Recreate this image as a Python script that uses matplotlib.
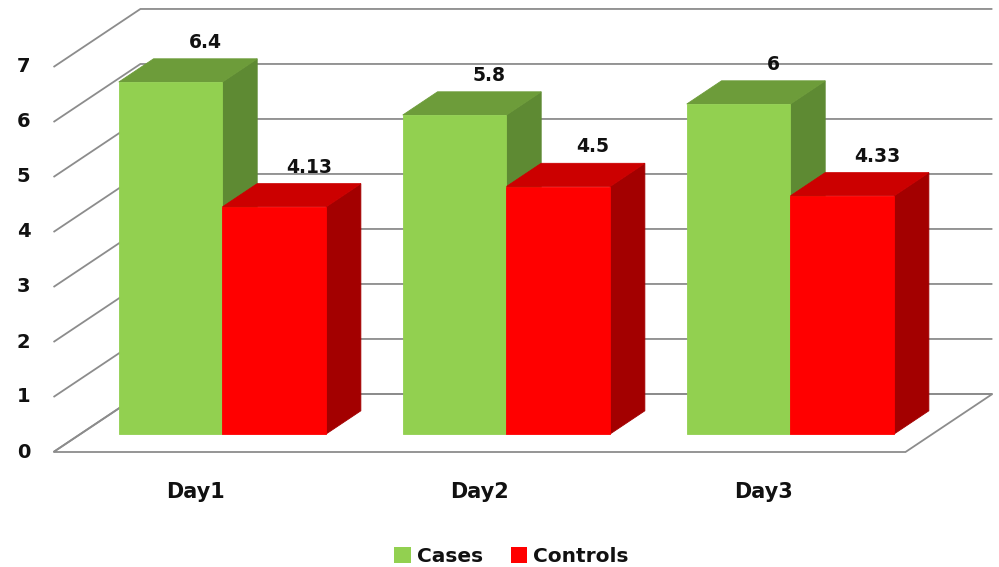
import matplotlib
matplotlib.use("Agg")
import matplotlib.pyplot as plt
from matplotlib.patches import Polygon, Patch

# Data
categories = ["Day1", "Day2", "Day3"]
series_names = ["Cases", "Controls"]
cases = [6.4, 5.8, 6.0]
controls = [4.13, 4.5, 4.33]
value_labels_cases = ["6.4", "5.8", "6"]
value_labels_controls = ["4.13", "4.5", "4.33"]
y_ticks = [0, 1, 2, 3, 4, 5, 6, 7]

# Face colours: front, top, side
green = ("#92d050", "#6d9c3a", "#5e8a33")
red = ("#ff0000", "#cc0000", "#a30000")
grid_col = "#8c8c8c"
text_col = "#111111"

# Oblique projection of (category, value, depth) onto the 2D axes
DX = 0.306   # horizontal shift (category units) for full depth
DY = 1.055   # vertical shift (value units) for full depth


def proj(c, v, z):
    return (c + DX * z, v + DY * z)


fig = plt.figure(figsize=(9.99, 5.67), dpi=100)
ax = fig.add_axes([0, 0, 1, 1])
px_per_cat = 284.0
px_per_val = 55.0
ax.set_xlim(-195.5 / px_per_cat, (999 - 195.5) / px_per_cat)
ax.set_ylim((452 - 567) / px_per_val, 452 / px_per_val)
ax.axis("off")

c_left, c_right = -0.5, len(categories) - 0.5

# Floor
floor = [proj(c_left, 0, 0), proj(c_right, 0, 0), proj(c_right, 0, 1), proj(c_left, 0, 1)]
ax.add_patch(Polygon(floor, closed=True, facecolor="white", edgecolor=grid_col,
                     linewidth=1.3, zorder=1))

# Side-wall and back-wall gridlines with the value axis labels
for v in y_ticks:
    pts = [proj(c_left, v, 0), proj(c_left, v, 1), proj(c_right, v, 1)]
    xs, ys = zip(*pts)
    ax.plot(xs, ys, color=grid_col, linewidth=1.3, zorder=2, solid_capstyle="butt")
    ax.annotate(str(v), xy=proj(c_left, v, 0), xytext=(-21.5, 0), textcoords="offset points",
                ha="center", va="center", fontsize=14, fontweight="bold", color=text_col)

bar_w = 0.365
z0, z1 = 0.31, 0.71


def draw_bar(c0, c1, v, cols, label):
    front = [proj(c0, 0, z0), proj(c1, 0, z0), proj(c1, v, z0), proj(c0, v, z0)]
    top = [proj(c0, v, z0), proj(c1, v, z0), proj(c1, v, z1), proj(c0, v, z1)]
    side = [proj(c1, 0, z0), proj(c1, 0, z1), proj(c1, v, z1), proj(c1, v, z0)]
    for face, col in ((side, cols[2]), (top, cols[1]), (front, cols[0])):
        ax.add_patch(Polygon(face, closed=True, facecolor=col, edgecolor=col,
                             linewidth=0.6, joinstyle="miter", zorder=5))
    ax.annotate(label, xy=proj((c0 + c1) / 2, v, z1), xytext=(0, 5), textcoords="offset points",
                ha="center", va="bottom", fontsize=13.5, fontweight="bold", color=text_col,
                zorder=6)


for i, cat in enumerate(categories):
    draw_bar(i - bar_w, i, cases[i], green, value_labels_cases[i])
    draw_bar(i, i + bar_w, controls[i], red, value_labels_controls[i])
    ax.annotate(cat, xy=proj(i, 0, 0), xytext=(0, -29), textcoords="offset points",
                ha="center", va="center", fontsize=15, fontweight="bold", color=text_col)

handles = [Patch(facecolor=green[0], edgecolor="none"), Patch(facecolor=red[0], edgecolor="none")]
leg = fig.legend(handles, series_names, loc="lower center", bbox_to_anchor=(0.512, -0.03),
                 ncol=2, frameon=False, handlelength=0.8, handleheight=0.8,
                 handletextpad=0.3, columnspacing=1.4,
                 prop={"size": 14.5, "weight": "bold"})
for t in leg.get_texts():
    t.set_color(text_col)

fig.savefig("out.png", dpi=100)
